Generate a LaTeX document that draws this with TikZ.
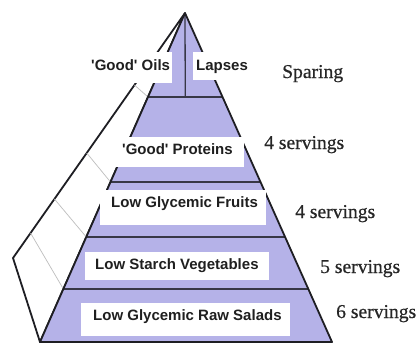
\documentclass[tikz,border=0pt]{standalone}
\usepackage{fontspec}
\usetikzlibrary{calc}
\newfontfamily\lblfont{Liberation Sans}
\newfontfamily\srvfont{Liberation Serif}[FakeBold=0.6]
\definecolor{pyr}{RGB}{181,178,232}
\definecolor{edgec}{RGB}{30,30,35}
\definecolor{tierc}{RGB}{55,55,70}
\definecolor{facec}{RGB}{190,190,190}
\begin{document}
\begin{tikzpicture}[x=1pt,y=-1pt,
  whitebox/.style={fill=white, draw=none, inner sep=0pt, outer sep=0pt},
  lbl/.style={font=\lblfont\bfseries\fontsize{15}{18}\selectfont, text=black!88, inner sep=0pt, anchor=base west},
  srv/.style={font=\srvfont\fontsize{19.6}{22}\selectfont, text=black!85, inner sep=0pt, anchor=base west},
  outline/.style={draw=edgec, line width=1.8pt, line join=round},
  tierline/.style={draw=tierc, line width=1.3pt},
  faceline/.style={draw=facec, line width=0.7pt}]
\useasboundingbox (0,0) rectangle (419,345);
% key points
\coordinate (A) at (185,13);
\coordinate (BL) at (40,342);
\coordinate (BR) at (332,342);
\coordinate (F) at (13,258);
% side face
\filldraw[fill=white, outline] (A) -- (F) -- (BL) -- cycle;
% grey lines on side face
\draw[faceline] ($(A)!0.2553!(BL)$) -- ($(A)!0.2939!(F)$);
\draw[faceline] ($(A)!0.5137!(BL)$) -- ($(A)!0.5714!(F)$);
\draw[faceline] ($(A)!0.6809!(BL)$) -- ($(A)!0.7592!(F)$);
\draw[faceline] ($(A)!0.8389!(BL)$) -- ($(A)!0.8980!(F)$);
% pyramid
\fill[pyr] (A) -- (BL) -- (BR) -- cycle;
\draw[tierline] ($(A)!0.2553!(BL)$) -- ($(A)!0.2553!(BR)$);
\draw[tierline] ($(A)!0.5137!(BL)$) -- ($(A)!0.5137!(BR)$);
\draw[tierline] ($(A)!0.6809!(BL)$) -- ($(A)!0.6809!(BR)$);
\draw[tierline] ($(A)!0.8389!(BL)$) -- ($(A)!0.8389!(BR)$);
\draw[tierline] (A) -- ($(A)!0.2553!(BL)!0.5!($(A)!0.2553!(BR)$)$);
\draw[outline] (A) -- (BL) -- (BR) -- cycle;
% white label boxes
\node[whitebox, minimum width=84pt, minimum height=31pt] (oilsbox) at (130,67.5) {};
\node[whitebox, minimum width=59pt, minimum height=28pt] (lapsbox) at (222.5,66) {};
\node[whitebox, minimum width=129pt, minimum height=30pt] (protbox) at (179.5,152) {};
\node[whitebox, minimum width=166pt, minimum height=35pt] (fruitbox) at (183,207.5) {};
\node[whitebox, minimum width=184pt, minimum height=28pt] (vegbox) at (177,266) {};
\node[whitebox, minimum width=209pt, minimum height=33pt] (saladbox) at (185.5,319.5) {};
% labels
\node[lbl] (oils) at (91,70) {'Good' Oils};
\node[lbl] (laps) at (196,70.5) {Lapses};
\node[lbl] (prot) at (122,154) {'Good' Proteins};
\node[lbl] (fruit) at (111,207) {Low Glycemic Fruits};
\node[lbl] (veg) at (95,269) {Low Starch Vegetables};
\node[lbl] (salad) at (93,320) {Low Glycemic Raw Salads};
% servings
\node[srv] (spar) at (282,78) {Sparing};
\node[srv] (s1) at (264,149) {4 servings};
\node[srv] (s2) at (295,218) {4 servings};
\node[srv] (s3) at (320,273) {5 servings};
\node[srv] (s4) at (336,318) {6 servings};
\end{tikzpicture}
\end{document}
